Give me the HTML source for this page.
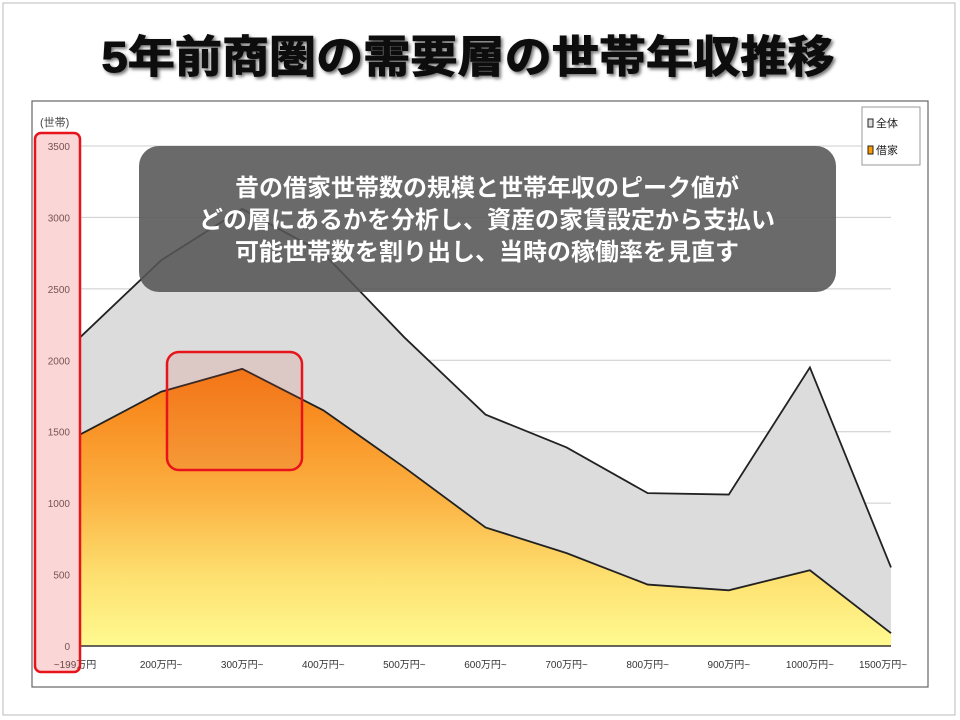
<!DOCTYPE html>
<html><head><meta charset="utf-8"><style>
html,body{margin:0;padding:0;background:#fff;}
svg{display:block;font-family:"Liberation Sans","Noto Sans CJK JP",sans-serif;}
</style></head><body>
<svg id="chart" width="960" height="720" viewBox="0 0 960 720" xmlns="http://www.w3.org/2000/svg">
<defs>
<linearGradient id="orange" x1="0" y1="0" x2="0" y2="1">
<stop offset="0" stop-color="#f77a10"/><stop offset="0.45" stop-color="#fbb040"/><stop offset="0.75" stop-color="#fde070"/><stop offset="1" stop-color="#fffa90"/>
</linearGradient>
<filter id="sh" x="-5%" y="-20%" width="110%" height="140%"><feDropShadow dx="2" dy="2" stdDeviation="1.5" flood-color="#000" flood-opacity="0.55"/></filter>
</defs>
<rect x="3" y="3" width="952" height="712" fill="#fff" stroke="#bbb" stroke-width="1"/>
<text x="468" y="72" text-anchor="middle" font-size="44" font-weight="bold" fill="#111" stroke="#111" stroke-width="1" textLength="733" lengthAdjust="spacingAndGlyphs" filter="url(#sh)">5年前商圏の需要層の世帯年収推移</text>
<rect x="32" y="101" width="896" height="586" fill="#fff" stroke="#666" stroke-width="1.2"/>
<g id="grid"></g>
<g id="areas"></g>
<g id="axes"></g>
<text x="40" y="126" font-size="11" fill="#444">(世帯)</text>
<g>
<rect x="862" y="107" width="58" height="58" fill="#fff" stroke="#999"/>
<rect x="868" y="119" width="5" height="8" fill="#ddd" stroke="#222"/>
<text x="876" y="127" font-size="11" fill="#222">全体</text>
<rect x="868" y="146" width="5" height="8" fill="#f90" stroke="#222"/>
<text x="876" y="154" font-size="11" fill="#222">借家</text>
</g>
<rect x="35" y="133" width="45" height="539" rx="6" fill="rgba(240,120,120,0.3)" stroke="#e8141c" stroke-width="2.5"/>
<rect x="167" y="352" width="135" height="118" rx="12" fill="rgba(220,90,60,0.15)" stroke="#e8141c" stroke-width="2.5"/>
<rect x="139" y="146" width="697" height="146" rx="20" fill="rgba(85,85,85,0.88)"/>
<g font-size="24" font-weight="bold" fill="#fff" text-anchor="middle">
<text x="487" y="196">昔の借家世帯数の規模と世帯年収のピーク値が</text>
<text x="487" y="228">どの層にあるかを分析し、資産の家賃設定から支払い</text>
<text x="487" y="260">可能世帯数を割り出し、当時の稼働率を見直す</text>
</g>
</svg>
<script>
const categories=["~199万円","200万円~","300万円~","400万円~","500万円~","600万円~","700万円~","800万円~","900万円~","1000万円~","1500万円~"];
const totalValues=[2160,2700,3060,2750,2160,1620,1390,1070,1060,1950,550];
const rentValues=[1480,1780,1940,1650,1250,830,650,430,390,530,90];
const yTicks=[0,500,1000,1500,2000,2500,3000,3500];
const NS="http://www.w3.org/2000/svg";
const X0=80,X1=891,Y0=646,Y1=146,YMAX=3500;
function xs(i){return X0+(X1-X0)*i/(categories.length-1);}
function ys(v){return Y0-(Y0-Y1)*v/YMAX;}
function mk(tag,attrs,parent){const e=document.createElementNS(NS,tag);for(const k in attrs)e.setAttribute(k,attrs[k]);parent.appendChild(e);return e;}
const grid=document.getElementById('grid'),areas=document.getElementById('areas'),axes=document.getElementById('axes');
yTicks.forEach(t=>{
 const l=mk('line',{x1:X0,x2:X1,y1:ys(t),y2:ys(t),stroke:'#ccc','stroke-width':1},grid);
 
 
 const tx=mk('text',{x:70,y:ys(t)+4,'font-size':10,fill:'#444','text-anchor':'end'},axes);
 tx.textContent=t;
 
 
});
function areaPath(vals){let d='M'+xs(0)+','+Y0;vals.forEach((v,i)=>{d+=' L'+xs(i)+','+ys(v);});d+=' L'+xs(vals.length-1)+','+Y0+' Z';return d;}
function linePath(vals){return vals.map((v,i)=>(i?'L':'M')+xs(i)+','+ys(v)).join(' ');}
const a1=mk('path',{d:areaPath(totalValues),fill:'#dcdcdc'},areas);


const l1=mk('path',{d:linePath(totalValues),fill:'none',stroke:'#222','stroke-width':1.8},areas);


const a2=mk('path',{d:areaPath(rentValues),fill:'url(#orange)'},areas);


const l2=mk('path',{d:linePath(rentValues),fill:'none',stroke:'#222','stroke-width':1.8},areas);


const ax=mk('line',{x1:X0,x2:X1,y1:Y0,y2:Y0,stroke:'#333','stroke-width':1.5},axes);


const ay=mk('line',{x1:X0,x2:X0,y1:Y1,y2:Y0,stroke:'#666','stroke-width':1},axes);


categories.forEach((c,i)=>{
 const t=mk('text',{x:xs(i)+(i===0?-5:(i===10?-8:0)),y:668,'font-size':10,fill:'#333','text-anchor':'middle'},axes);
 t.textContent=c;
 
 
});
</script>
</body></html>
